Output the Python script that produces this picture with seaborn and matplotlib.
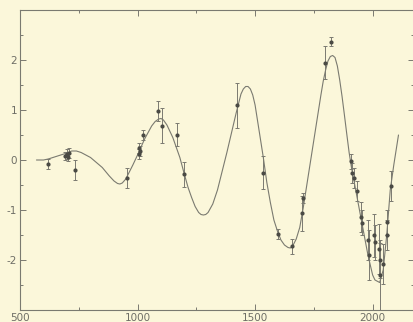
import numpy as np
import pandas as pd
import matplotlib
matplotlib.use("Agg")
import matplotlib.pyplot as plt
import seaborn as sns

# =====================================
# Data
# =====================================
point_x = [619, 690, 698, 705, 710, 734, 954, 1008, 1010, 1006, 1025, 1089,
           1106, 1169, 1198, 1422, 1533, 1599, 1656, 1699, 1702, 1798, 1823,
           1908, 1912, 1920, 1933, 1950, 1954, 1982, 1986, 2006, 2010, 2025,
           2030, 2032, 2046, 2060, 2063, 2079]
point_y = [-0.08, 0.08, 0.12, 0.06, 0.14, -0.20, -0.36, 0.24, 0.18, 0.13, 0.51,
           0.98, 0.69, 0.51, -0.28, 1.10, -0.25, -1.47, -1.72, -1.06, -0.75,
           1.95, 2.37, -0.02, -0.25, -0.35, -0.61, -1.14, -1.25, -1.60, -1.90,
           -1.50, -1.64, -1.77, -2.00, -2.30, -2.07, -1.50, -1.24, -0.51]
point_err = [0.10, 0.08, 0.10, 0.08, 0.10, 0.20, 0.20, 0.10, 0.10, 0.10, 0.10,
             0.20, 0.35, 0.23, 0.25, 0.45, 0.33, 0.10, 0.15, 0.35, 0.10,
             0.33, 0.08, 0.15, 0.20, 0.20, 0.20, 0.30, 0.25, 0.40, 0.50,
             0.43, 0.35, 0.50, 0.35, 0.70, 0.40, 0.30, 0.25, 0.30]

curve_x = [570, 600, 620, 660, 700, 720, 740, 760, 800, 850, 880, 900, 915,
           925, 935, 950, 980, 1000, 1030, 1060, 1075, 1090, 1100, 1110, 1125,
           1150, 1180, 1200, 1215, 1230, 1245, 1260, 1270, 1280, 1290, 1300,
           1320, 1340, 1380, 1420, 1440, 1450, 1460, 1470, 1480, 1490, 1500,
           1520, 1535, 1550, 1565, 1580, 1595, 1610, 1625, 1640, 1650, 1660,
           1675, 1690, 1705, 1720, 1735, 1750, 1765, 1780, 1790, 1800, 1810,
           1820, 1830, 1840, 1850, 1860, 1870, 1880, 1890, 1900, 1910, 1920,
           1940, 1960, 1980, 2000, 2010, 2030, 2045, 2060, 2075, 2090, 2110]
curve_y = [0.00, 0.00, 0.02, 0.08, 0.14, 0.18, 0.18, 0.15, 0.05, -0.15,
           -0.32, -0.42, -0.47, -0.48, -0.46, -0.38, -0.10, 0.10, 0.42, 0.68,
           0.77, 0.82, 0.83, 0.80, 0.70, 0.45, 0.05, -0.30, -0.55, -0.75,
           -0.93, -1.05, -1.09, -1.10, -1.09, -1.05, -0.88, -0.60, 0.15, 0.95,
           1.32, 1.42, 1.47, 1.47, 1.42, 1.30, 1.10, 0.50, 0.05, -0.45, -0.85,
           -1.20, -1.42, -1.60, -1.70, -1.75, -1.76, -1.72, -1.58, -1.35,
           -0.95, -0.50, -0.05, 0.40, 0.85, 1.30, 1.58, 1.80, 1.98, 2.07, 2.09,
           2.05, 1.88, 1.60, 1.27, 0.90, 0.52, 0.15, -0.15, -0.40, -0.90,
           -1.40, -1.90, -2.30, -2.40, -2.45, -2.20, -1.50, -0.60, -0.10, 0.50]

x_major = [500, 1000, 1500, 2000]
x_minor = [750, 1250, 1750]
y_major = [-2, -1, 0, 1, 2]
y_minor = [-2.5, -1.5, -0.5, 0.5, 1.5, 2.5]

# =====================================
# Style
# =====================================
PAPER = "#fbf7da"
INK = "#7a7a70"
DOT = "#4a4a44"

sns.set_style("ticks")
plt.rcParams["font.family"] = ["DejaVu Sans"]

points = pd.DataFrame({"x": point_x, "y": point_y, "err": point_err})
curve = pd.DataFrame({"x": curve_x, "y": curve_y})

fig = plt.figure(figsize=(4.14, 3.22), dpi=100, facecolor=PAPER)
ax = fig.add_axes([20 / 414, 12 / 322, 394 / 414, 300 / 322])
ax.set_facecolor(PAPER)

sns.lineplot(data=curve, x="x", y="y", ax=ax, color=INK, linewidth=0.8,
             sort=False)
ax.errorbar(points["x"], points["y"], yerr=points["err"], fmt="none",
            ecolor=INK, elinewidth=0.7, capsize=1.2, capthick=0.7)
sns.scatterplot(data=points, x="x", y="y", ax=ax, color=DOT, s=9,
                linewidth=0, zorder=5)

ax.set_xlim(500, 2176)
ax.set_ylim(-3, 3)
ax.set_xticks(x_major)
ax.set_xticks(x_minor, minor=True)
ax.set_yticks(y_major)
ax.set_yticks(y_minor, minor=True)
ax.set_yticklabels([str(v) for v in y_major])
ax.set_xlabel("")
ax.set_ylabel("")

ax.tick_params(which="both", direction="in", top=True, right=True,
               color=INK, width=0.7, labelcolor="#6e6e66", labelsize=7.5,
               pad=2)
ax.tick_params(which="major", length=4)
ax.tick_params(which="minor", length=2.5)
for side in ax.spines.values():
    side.set_color(INK)
    side.set_linewidth(0.8)

fig.savefig("out.png", dpi=100, facecolor=PAPER)
